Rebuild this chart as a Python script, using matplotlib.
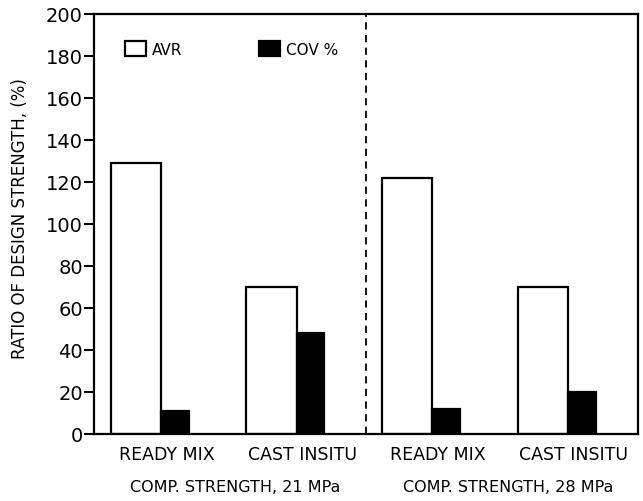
import numpy as np
import matplotlib
matplotlib.use("Agg")
import matplotlib.pyplot as plt

# values
groups = ["READY MIX", "CAST INSITU", "READY MIX", "CAST INSITU"]
avr = [129, 70, 122, 70]
cov = [11, 48, 12, 20]
strength_labels = ["COMP. STRENGTH, 21 MPa", "COMP. STRENGTH, 28 MPa"]
yticks = [0, 20, 40, 60, 80, 100, 120, 140, 160, 180, 200]

plt.rcParams['font.family'] = ['DejaVu Sans']

fig = plt.figure(figsize=(6.43, 5.02), dpi=100)
ax = fig.add_axes([0.1462, 0.1335, 0.8453, 0.8367])

x = np.arange(len(groups))
w_avr = 0.37
w_cov = 0.205

ax.bar(x, avr, width=w_avr, align='edge', color='white', edgecolor='black',
       linewidth=1.6, label='AVR', zorder=2)
ax.bar(x + w_avr, cov, width=w_cov, align='edge', color='black', edgecolor='black',
       linewidth=1.6, label='COV %', zorder=2)

# divider between the two strength classes
ax.axvline(1.879, color='black', linestyle=(0, (4, 3)), linewidth=1.3)

ax.set_xlim(-0.125, 3.885)
ax.set_ylim(0, 200)
ax.set_yticks(yticks)
ax.tick_params(axis='y', length=7, width=1.5, pad=1, labelsize=14)
ax.set_xticks(x + 0.41)
ax.set_xticklabels(groups, fontsize=12.5)
ax.tick_params(axis='x', length=0, pad=8)

for s in ax.spines.values():
    s.set_linewidth(1.6)

trans = ax.get_xaxis_transform()
ax.text(0.915, -0.126, strength_labels[0], transform=trans, ha='center', va='center',
        fontsize=11.5)
ax.text(2.93, -0.126, strength_labels[1], transform=trans, ha='center', va='center',
        fontsize=11.5)

fig.text(20 / 643, 1 - 219 / 502, "RATIO OF DESIGN STRENGTH, (%)", rotation=90,
         ha='center', va='center', fontsize=12)

ax.legend(loc='upper left', bbox_to_anchor=(0.045, 0.95), ncol=2, frameon=False,
          fontsize=11, handlelength=1.4, handleheight=1.1, handletextpad=0.4,
          columnspacing=5.0, borderaxespad=0)

fig.savefig("out.png", dpi=100)
